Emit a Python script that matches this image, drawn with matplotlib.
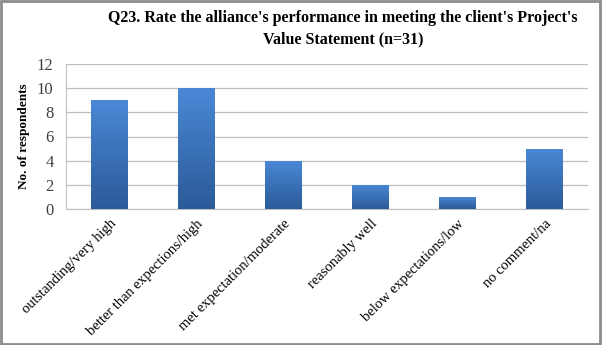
import matplotlib.pyplot as plt
import numpy as np
from matplotlib.patches import Rectangle
from matplotlib.colors import LinearSegmentedColormap

categories = ['outstanding/very high', 'better than expections/high',
              'met expectation/moderate', 'reasonably well',
              'below expectations/low', 'no comment/na']
counts = [9, 10, 4, 2, 1, 5]
yticks = [0, 2, 4, 6, 8, 10, 12]

plt.rcParams['font.family'] = ['Liberation Serif', 'DejaVu Serif']

fig = plt.figure(figsize=(6.02, 3.45), dpi=100)
ax = fig.add_axes([66 / 602, 1 - 209 / 345, 522 / 602, 145 / 345])

x = np.arange(len(categories))
bars = ax.bar(x, counts, width=0.42, color='#3a6fb8', zorder=2)

# vertical gradient on each bar, light on top, dark at the bottom
grad = np.linspace(0, 1, 256).reshape(-1, 1)
cmap = LinearSegmentedColormap.from_list('bar', ['#2b5a98', '#4a88d6'])
for b in bars:
    bx, by = b.get_x(), b.get_y()
    im = ax.imshow(grad, cmap=cmap, origin='lower', aspect='auto',
                   extent=(bx, bx + b.get_width(), by, by + b.get_height()),
                   zorder=3)
    im.set_clip_path(b)

ax.set_xlim(-0.5, len(categories) - 0.5)
ax.set_ylim(0, 12)
ax.set_yticks(yticks)
ax.set_xticks(x)
ax.set_xticklabels(categories, rotation=45, ha='right', rotation_mode='anchor',
                   fontsize=10.5)
ax.tick_params(axis='y', labelsize=12, length=0, pad=9, colors='#404040')
ax.tick_params(axis='x', length=0, pad=6)
ax.grid(axis='y', color='#bfbfbf', linewidth=0.9, zorder=0)
for s in ['top', 'right']:
    ax.spines[s].set_visible(False)
ax.spines['left'].set_color('#bfbfbf')
ax.spines['bottom'].set_color('#bfbfbf')
ax.set_ylabel('No. of respondents', fontsize=9.5, fontweight='bold', labelpad=5)

fig.text(343 / 602, 1 - 29 / 345,
         "Q23. Rate the alliance's performance in meeting the client's Project's\nValue Statement (n=31)",
         ha='center', va='center', fontsize=11.5, fontweight='bold',
         linespacing=1.45)

fig.patches.append(Rectangle((0.002, 0.003), 0.995, 0.993, transform=fig.transFigure,
                             fill=False, edgecolor='#8c8c8c', linewidth=2))

fig.savefig('out.png', dpi=100)
